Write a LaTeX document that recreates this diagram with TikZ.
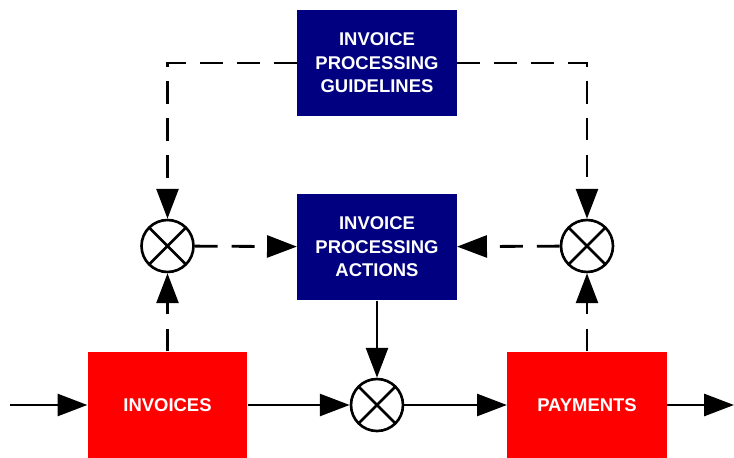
\documentclass[tikz,border=0pt]{standalone}
\usepackage{fontspec}
\setmainfont{Liberation Sans}
\usepackage{xcolor}
\usepackage{tikz}
\usetikzlibrary{arrows.meta}
\definecolor{guidenavy}{RGB}{0,0,128}
\definecolor{flowred}{RGB}{255,0,0}
\tikzset{block/.style={fill=#1,text=white,font=\bfseries\fontsize{10.5}{13.3}\selectfont,align=center,minimum width=3.19cm,minimum height=2.13cm,inner sep=0pt},
mult/.style={circle,draw,line width=1.5pt,minimum size=1.04cm,inner sep=0pt,path picture={\draw[line width=1.5pt](path picture bounding box.north west)--(path picture bounding box.south east)(path picture bounding box.north east)--(path picture bounding box.south west);}},
flow/.style={line width=1.6pt,-{Triangle[length=17pt,width=12.5pt]}},
ctrl/.style={flow,dash pattern=on 13pt off 8pt}}

\begin{document}
\begin{tikzpicture}
\useasboundingbox(0,0)rectangle(14.68,9.14);
\node[block=guidenavy](guide)at(7.54,7.88){INVOICE\\PROCESSING\\GUIDELINES};
\node[block=guidenavy](actions)at(7.54,4.2){INVOICE\\PROCESSING\\ACTIONS};
\node[block=flowred](invoices)at(3.35,1.04){INVOICES};
\node[block=flowred](payments)at(11.74,1.04){PAYMENTS};
\node[mult](sumL)at(3.35,4.22){};
\node[mult](sumR)at(11.74,4.22){};
\node[mult](sumB)at(7.54,1.04){};
\coordinate(in)at(0.2,1.04);
\coordinate(out)at(14.68,1.04);

\draw[flow](in)--(invoices);
\draw[flow](invoices)--(sumB);
\draw[flow](sumB)--(payments);
\draw[flow](payments)--(out);
\draw[flow](actions)--(sumB);

\draw[ctrl](invoices)--(sumL);
\draw[ctrl](payments)--(sumR);
\draw[ctrl](sumL)--(actions);
\draw[ctrl](sumR)--(actions);
\draw[ctrl](guide.west)-|(sumL.north);
\draw[ctrl](guide.east)-|(sumR.north);
\end{tikzpicture}
\end{document}
